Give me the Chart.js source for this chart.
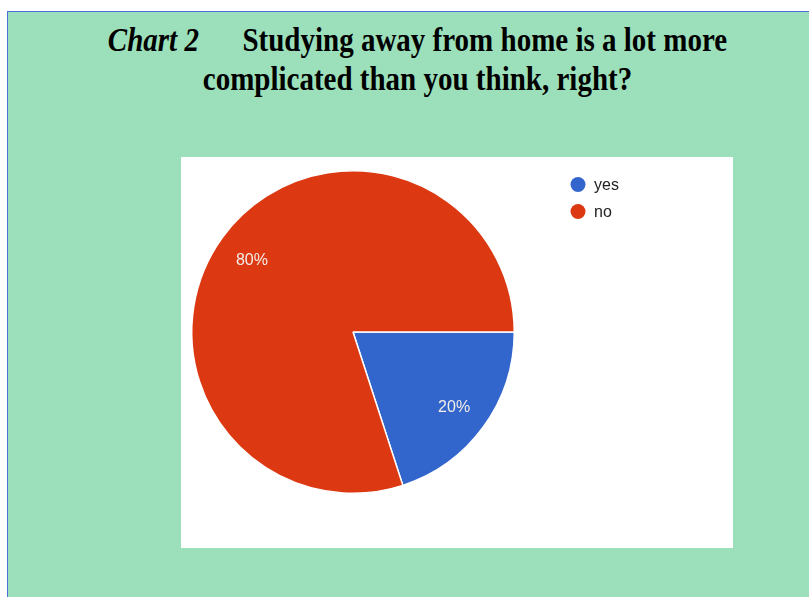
<!DOCTYPE html>
<html>
<head>
<meta charset="utf-8">
<script src="https://cdn.jsdelivr.net/npm/chart.js@4/dist/chart.umd.min.js"></script>
<style>
  html, body { margin: 0; padding: 0; background: #fff; width: 809px; height: 597px; overflow: hidden; }
  #page {
    position: absolute; left: 7px; top: 11px; width: 802px; height: 586px;
    background: #9ce0bb; border-top: 1px solid #4a6fd6; border-left: 1px solid #4a6fd6;
  }
  .title {
    position: absolute; left: 0; width: 809px; text-align: center;
    font-family: "Liberation Serif", "Times New Roman", serif; font-weight: bold;
    font-size: 29px; color: #000; white-space: pre;
    transform: scaleY(1.15); transform-origin: 50% 100%;
  }
  #panel { position: absolute; left: 181px; top: 157px; width: 552px; height: 391px; background: #fff; }
</style>
</head>
<body>
<div id="page"></div>
<div class="title" style="top:26px; left:13px"><i>Chart 2</i>      Studying away from home is a lot more</div>
<div class="title" style="top:65px; left:13px">complicated than you think, right?</div>
<div id="panel"><canvas id="pie" width="552" height="391"></canvas></div>
<script>
// 数据
const labels = ['yes', 'no'];
const values = [20, 80];
const colors = ['#3366cc', '#dc3912'];

// 扇区内的百分比标签
const sliceLabels = {
  id: 'sliceLabels',
  afterDatasetsDraw(chart) {
    const ctx = chart.ctx;
    const total = values.reduce((a, b) => a + b, 0);
    chart.getDatasetMeta(0).data.forEach((arc, i) => {
      const mid = (arc.startAngle + arc.endAngle) / 2;
      const r = arc.outerRadius * 0.775;
      ctx.save();
      ctx.fillStyle = '#f3ede8';
      ctx.font = '16px "Liberation Sans", Arial, sans-serif';
      ctx.textAlign = 'center';
      ctx.textBaseline = 'middle';
      ctx.fillText(Math.round(values[i] / total * 100) + '%', arc.x + Math.cos(mid) * r, arc.y + Math.sin(mid) * r + 2.5);
      ctx.restore();
    });
  }
};

// 右上角图例
const sideLegend = {
  id: 'sideLegend',
  afterDraw(chart) {
    const ctx = chart.ctx;
    labels.forEach((lab, i) => {
      const y = 27.5 + i * 27;
      ctx.save();
      ctx.fillStyle = colors[i];
      ctx.beginPath();
      ctx.arc(397, y, 7.5, 0, Math.PI * 2);
      ctx.fill();
      ctx.fillStyle = '#222';
      ctx.font = '16px "Liberation Sans", Arial, sans-serif';
      ctx.textBaseline = 'middle';
      ctx.fillText(lab, 413, y + 1);
      ctx.restore();
    });
  }
};

new Chart(document.getElementById('pie'), {
  type: 'pie',
  data: {
    labels: labels,
    datasets: [{
      data: values,
      backgroundColor: colors,
      borderColor: '#ffffff',
      borderWidth: 1.5
    }]
  },
  options: {
    responsive: false,
    animation: false,
    rotation: 90,
    layout: { padding: { left: 10, top: 13, right: 218, bottom: 54 } },
    plugins: { legend: { display: false }, tooltip: { enabled: false } }
  },
  plugins: [sliceLabels, sideLegend]
});
</script>
</body>
</html>
